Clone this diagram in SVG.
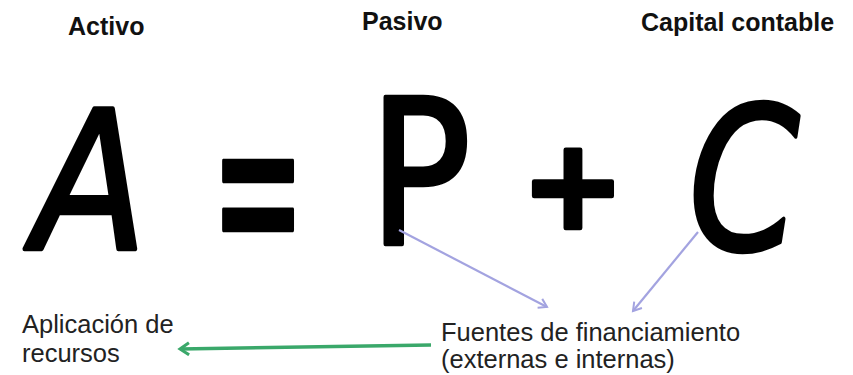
<svg xmlns="http://www.w3.org/2000/svg" width="853" height="375" viewBox="0 0 853 375">
<defs>
<style>
.hd{font-family:"Liberation Sans",Arial,sans-serif;font-weight:bold;font-size:25px;fill:#111}
.lb{font-family:"Liberation Sans",Arial,sans-serif;font-size:25.5px;fill:#222}
.big{font-family:"DejaVu Sans",sans-serif;fill:#000;stroke:#000;stroke-width:4.5;stroke-linejoin:round;stroke-linecap:round}
.pl{fill:none;stroke:#a3a3e0;stroke-width:2.2}
.gr{fill:none;stroke:#3aa86a;stroke-width:3.5}
</style>
<marker id="ap" markerWidth="14" markerHeight="14" refX="10" refY="6" orient="auto" markerUnits="userSpaceOnUse">
<path d="M2,1 L10,6 L2,11" fill="none" stroke="#a3a3e0" stroke-width="2"/>
</marker>
<marker id="ag" markerWidth="16" markerHeight="16" refX="11" refY="7" orient="auto" markerUnits="userSpaceOnUse">
<path d="M2,1 L11,7 L2,13" fill="none" stroke="#3aa86a" stroke-width="3"/>
</marker>
</defs>
<rect width="853" height="375" fill="#fff"/>
<g id="headers">
<text class="hd" x="68" y="35" font-size="27.5">Activo</text>
<text class="hd" x="362" y="30">Pasivo</text>
<text class="hd" x="641" y="31">Capital contable</text>
</g>
<g id="node-A"><text class="big" font-style="oblique" font-size="193" text-anchor="middle" transform="translate(90,249) scale(0.86,1)">A</text></g>
<g id="node-eq"><text class="big" font-size="260" text-anchor="middle" stroke-width="2" transform="translate(258,272) scale(0.43,0.95)">=</text></g>
<g id="node-P"><text class="big" font-size="202" text-anchor="middle" transform="translate(420,244) scale(0.84,1)">P</text></g>
<g id="node-plus"><text class="big" font-weight="bold" font-size="124" text-anchor="middle" transform="translate(573,228)">+</text></g>
<g id="node-C"><text class="big" font-style="oblique" font-size="198" text-anchor="middle" transform="translate(744,249) scale(0.8,1)">C</text></g>
<g id="labels">
<text class="lb" x="22" y="333">Aplicación de</text>
<text class="lb" x="22" y="362">recursos</text>
<text class="lb" x="441" y="341">Fuentes de financiamiento</text>
<text class="lb" x="441" y="368">(externas e internas)</text>
</g>
<g id="connectors">
<line class="pl" x1="399" y1="230" x2="547" y2="307" marker-end="url(#ap)"/>
<line class="pl" x1="698" y1="232" x2="633" y2="311" marker-end="url(#ap)"/>
<line class="gr" x1="431" y1="345" x2="180" y2="349" marker-end="url(#ag)"/>
</g>
</svg>
